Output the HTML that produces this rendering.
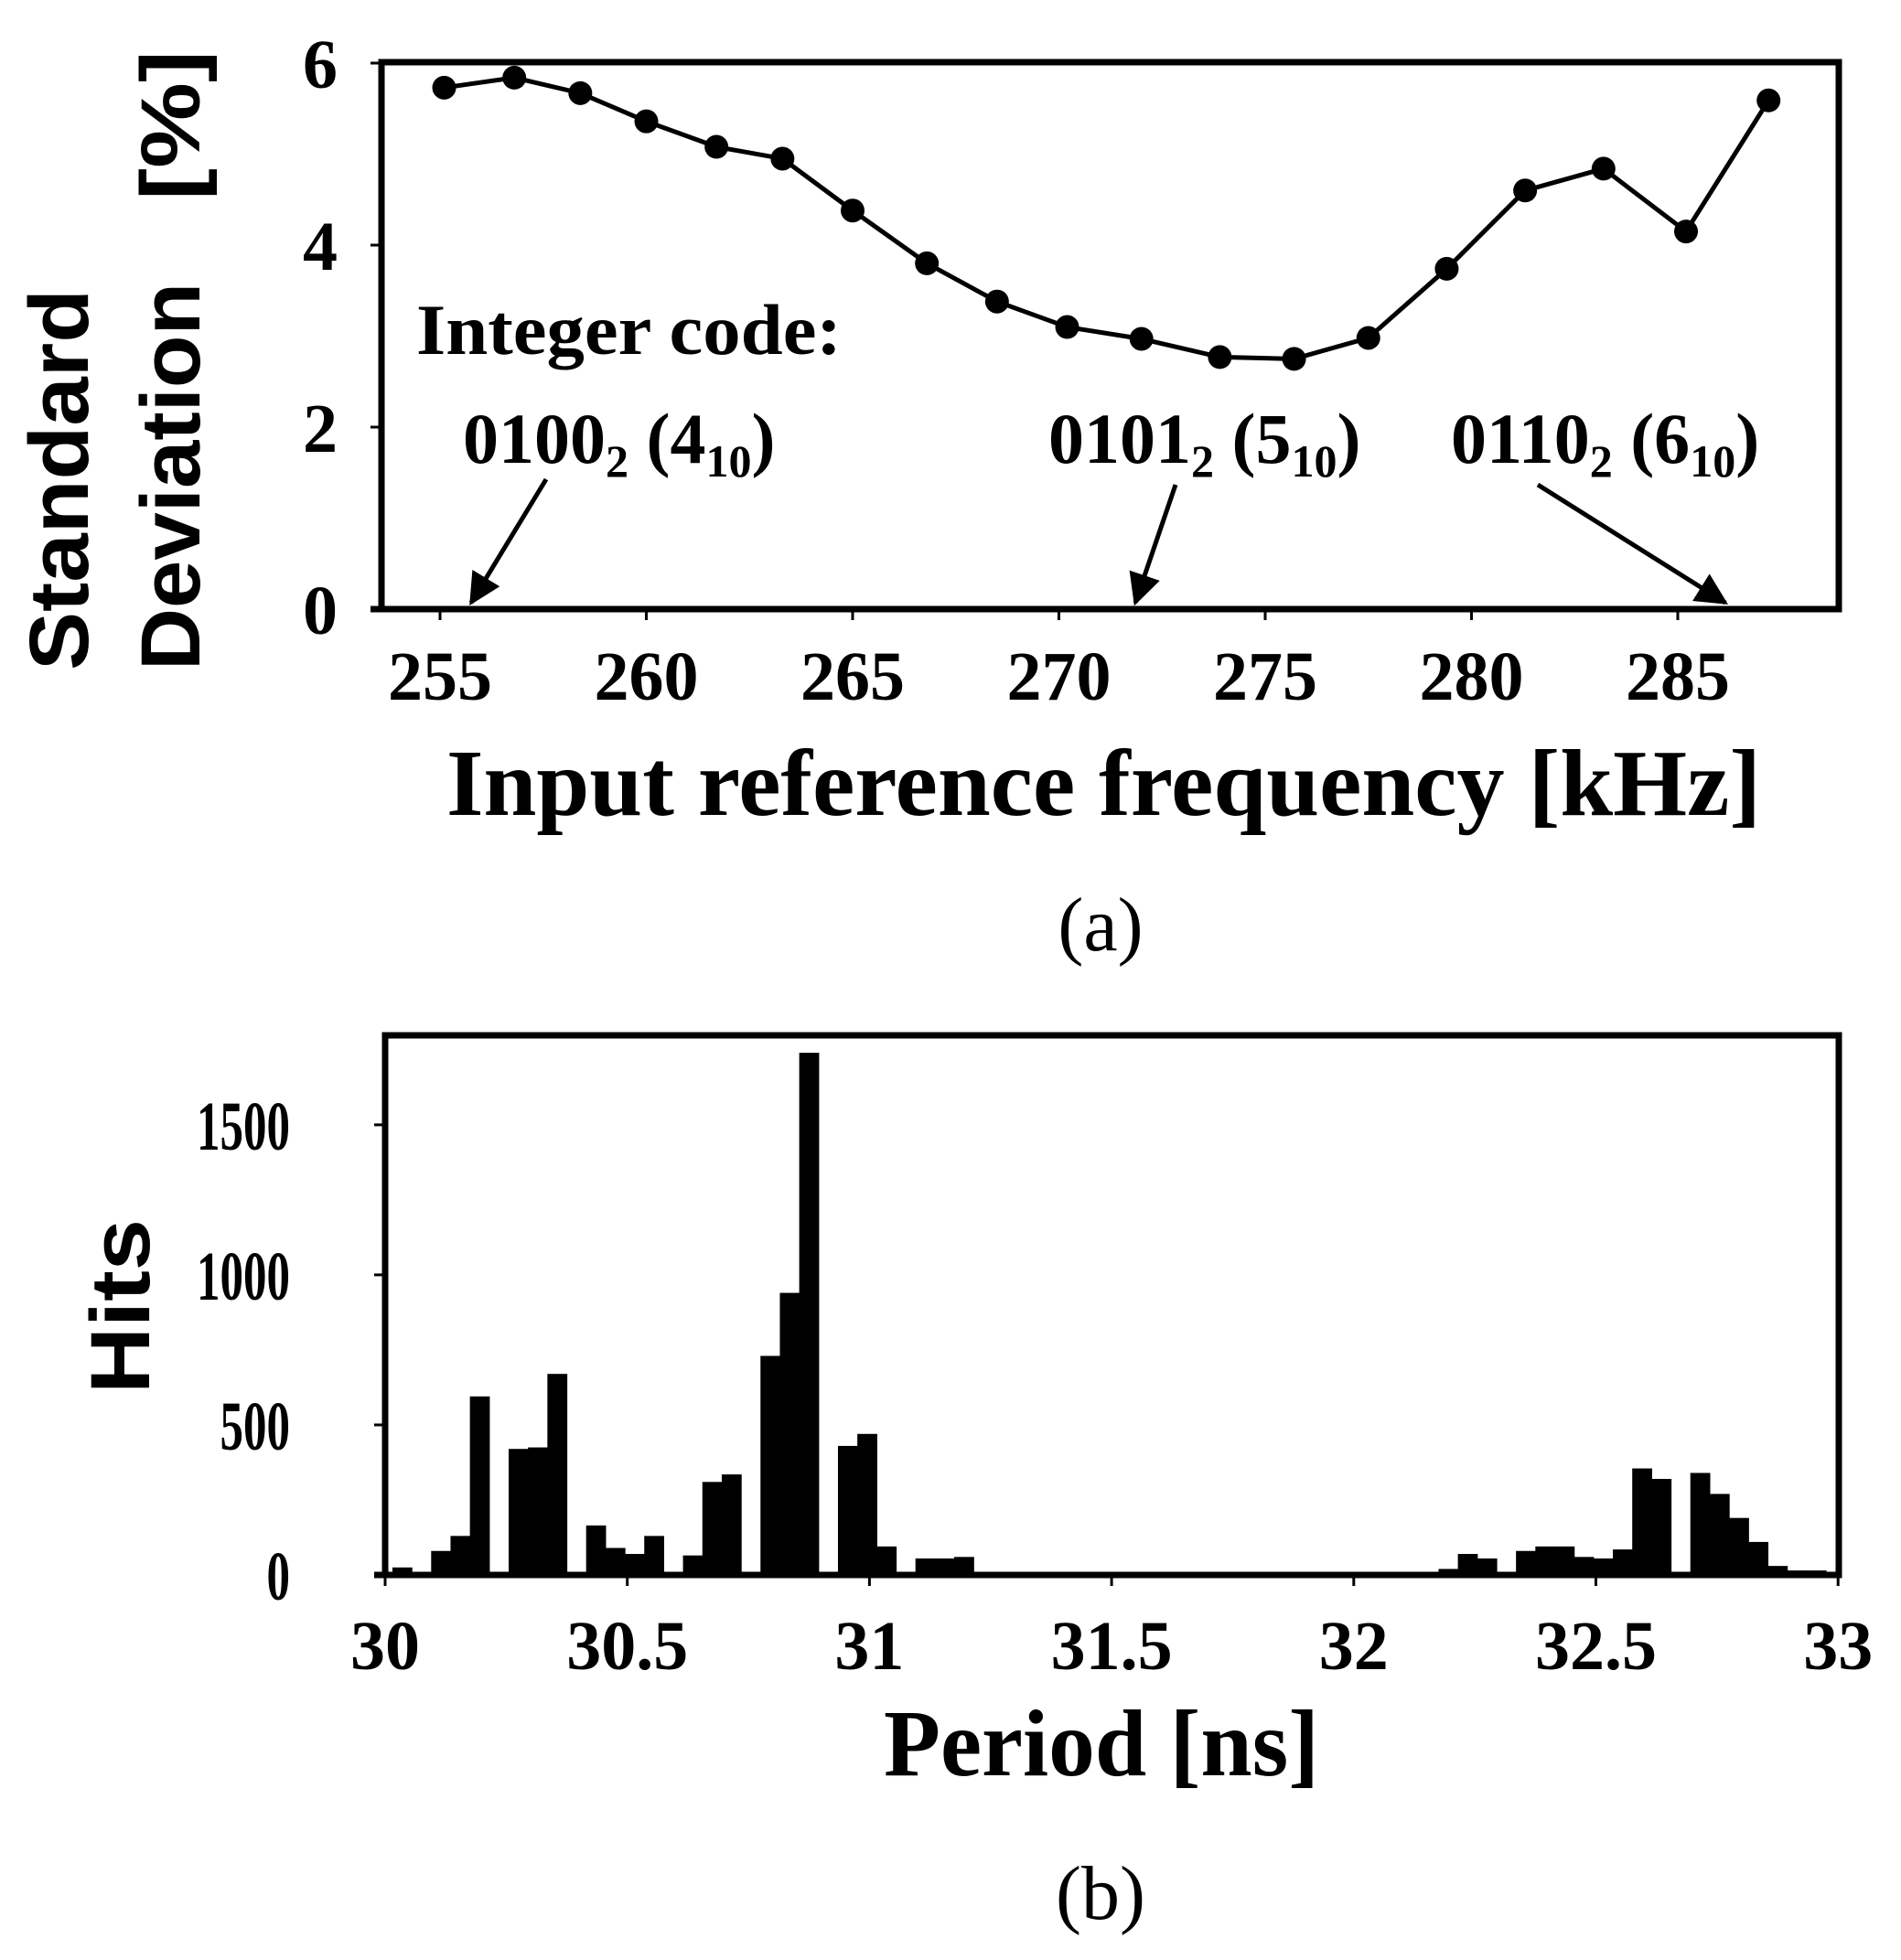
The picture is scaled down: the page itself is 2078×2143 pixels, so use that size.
<!DOCTYPE html>
<html><head><meta charset="utf-8"><style>
html,body{margin:0;padding:0;background:#fff;}
svg{display:block;}
text{fill:#000;}
.tk{font-family:"Liberation Serif",serif;font-weight:bold;font-size:76px;}
.ann{font-family:"Liberation Serif",serif;font-weight:bold;font-size:78px;}
</style></head><body>
<svg id="fig" width="2078" height="2143" viewBox="0 0 2078 2143" xmlns="http://www.w3.org/2000/svg">
<defs><marker id="ah" viewBox="0 0 10 10" refX="9" refY="5" markerWidth="7" markerHeight="7" orient="auto"><path d="M0,0 L10,5 L0,10 z" fill="#000"/></marker></defs>
<g id="chartA"></g>
<g id="chartB"></g>
</svg>
<script>
// ---- Chart (a) data ----
const freqKHz = [255.1,256.8,258.4,260.0,261.7,263.3,265.0,266.8,268.5,270.2,272.0,273.9,275.7,277.5,279.4,281.3,283.2,285.2,287.2];
const stdDevPct = [5.73,5.84,5.67,5.36,5.08,4.95,4.38,3.80,3.38,3.10,2.97,2.77,2.75,2.98,3.74,4.60,4.84,4.15,5.59];
const xTicksA = [255,260,265,270,275,280,285];
const yTicksA = [0,2,4,6];
// ---- Chart (b) data ----
const binStart = 30.015;
const binWidth = 0.04;
const hits = [25,5,80,130,595,0,420,425,670,0,165,90,70,130,0,65,310,335,0,730,940,1740,0,430,470,95,0,55,55,60,0,10,
2,2,2,2,2,2,2,2,2,2,2,2,2,2,2,2,2,2,2,2,2,5,20,70,55,0,80,95,95,60,55,85,355,320,0,340,270,190,110,30,15,15];
const xTicksB = [30,30.5,31,31.5,32,32.5,33];
const xTickLabelsB = ["30","30.5","31","31.5","32","32.5","33"];
const yTicksB = [0,500,1000,1500];

const NS="http://www.w3.org/2000/svg";
function mk(parent,tag,attrs,txt){const e=document.createElementNS(NS,tag);for(const k in attrs)e.setAttribute(k,attrs[k]);if(txt!==undefined)e.textContent=txt;parent.appendChild(e);return e;}

// ===== Chart A =====
const A=document.getElementById('chartA');
const xA=v=>481+(v-255)*45.1;
const yA=v=>666-v*99.5;
let fr=mk(A,'rect',{x:417,y:68,width:1593,height:598,fill:'none',stroke:'#000','stroke-width':7});


mk(A,'line',{x1:405,y1:666,x2:2013,y2:666,stroke:'#000','stroke-width':7});
yTicksA.forEach(v=>{
  mk(A,'line',{x1:405,y1:yA(v),x2:417,y2:yA(v),stroke:'#000','stroke-width':3});
  const t=mk(A,'text',{x:369,y:yA(v)+27,'text-anchor':'end','class':'tk'},String(v));
  
  
});
xTicksA.forEach(v=>{
  mk(A,'line',{x1:xA(v),y1:666,x2:xA(v),y2:678,stroke:'#000','stroke-width':3});
  const t=mk(A,'text',{x:xA(v),y:765,'text-anchor':'middle','class':'tk'},String(v));
  
  
});
let pts=freqKHz.map((f,i)=>xA(f)+','+yA(stdDevPct[i])).join(' ');
let pl=mk(A,'polyline',{points:pts,fill:'none',stroke:'#000','stroke-width':5});


freqKHz.forEach((f,i)=>{
  const c=mk(A,'circle',{cx:xA(f),cy:yA(stdDevPct[i]),r:13,fill:'#000'});
  
  
});
let t1=mk(A,'text',{transform:'translate(96,733) rotate(-90)','font-family':'Liberation Sans, sans-serif','font-weight':'bold','font-size':92,textLength:417,lengthAdjust:'spacingAndGlyphs'},'Standard');


let t2=mk(A,'text',{transform:'translate(218,733) rotate(-90)','font-family':'Liberation Sans, sans-serif','font-weight':'bold','font-size':92,textLength:424,lengthAdjust:'spacingAndGlyphs'},'Deviation');


let t3=mk(A,'text',{transform:'translate(218,219) rotate(-90)','font-family':'Liberation Sans, sans-serif','font-weight':'bold','font-size':92,textLength:164,lengthAdjust:'spacingAndGlyphs'},'[%]');


let xt=mk(A,'text',{x:488,y:891,'font-family':'Liberation Serif, serif','font-weight':'bold','font-size':104,textLength:1437,lengthAdjust:'spacingAndGlyphs'},'Input reference frequency [kHz]');


let ca=mk(A,'text',{x:1203,y:1039,'text-anchor':'middle','font-family':'Liberation Serif, serif','font-size':84},'(a)');


let ic=mk(A,'text',{x:455,y:387,'class':'ann',textLength:465,lengthAdjust:'spacingAndGlyphs'},'Integer code:');


const codes=[["0100","4",506],["0101","5",1146],["0110","6",1586]];
codes.forEach(c=>{
  const t=mk(A,'text',{x:c[2],y:506,'class':'ann'});
  
  
  mk(t,'tspan',{},c[0]);
  mk(t,'tspan',{'font-size':50,dy:15},'2');
  mk(t,'tspan',{dy:-15},' ('+c[1]);
  mk(t,'tspan',{'font-size':50,dy:15},'10');
  mk(t,'tspan',{dy:-15},')');
});
[[597,524,515,659],[1285,530,1241,659],[1681,530,1886,659]].forEach(a=>{
  const l=mk(A,'line',{x1:a[0],y1:a[1],x2:a[2],y2:a[3],stroke:'#000','stroke-width':5,'marker-end':'url(#ah)'});
  
  
});

// ===== Chart B =====
const B=document.getElementById('chartB');
const xB=p=>421+(p-30)*529.4;
const yB=v=>1722-v*0.3281;
hits.forEach((h,k)=>{
  if(h<=0)return;
  const p0=binStart+k*binWidth;
  const x0=xB(p0),x1=Math.min(xB(p0+binWidth),2008);
  const r=mk(B,'rect',{x:x0,y:yB(h),width:Math.max(0,x1-x0+0.6),height:1722-yB(h),fill:'#000'});
  
  
});
let frB=mk(B,'rect',{x:421,y:1132,width:1589,height:590,fill:'none',stroke:'#000','stroke-width':7});


mk(B,'line',{x1:409,y1:1722,x2:2013,y2:1722,stroke:'#000','stroke-width':7});
yTicksB.forEach(v=>{
  mk(B,'line',{x1:409,y1:yB(v),x2:421,y2:yB(v),stroke:'#000','stroke-width':3});
  const s=String(v);
  const t=mk(B,'text',{x:317-s.length*25.5,y:yB(v)+27,'class':'tk',textLength:s.length*25.5,lengthAdjust:'spacingAndGlyphs'},s);
  
  
});
xTicksB.forEach((v,i)=>{
  mk(B,'line',{x1:xB(v),y1:1722,x2:xB(v),y2:1734,stroke:'#000','stroke-width':3});
  const t=mk(B,'text',{x:xB(v),y:1825,'text-anchor':'middle','class':'tk'},xTickLabelsB[i]);
  
  
});
let hy=mk(B,'text',{transform:'translate(163,1524) rotate(-90)','font-family':'Liberation Sans, sans-serif','font-weight':'bold','font-size':92,textLength:191,lengthAdjust:'spacingAndGlyphs'},'Hits');


let px=mk(B,'text',{x:966,y:1941,'font-family':'Liberation Serif, serif','font-weight':'bold','font-size':104,textLength:476,lengthAdjust:'spacingAndGlyphs'},'Period [ns]');


let cb=mk(B,'text',{x:1203,y:2098,'text-anchor':'middle','font-family':'Liberation Serif, serif','font-size':84},'(b)');


</script>
</body></html>
